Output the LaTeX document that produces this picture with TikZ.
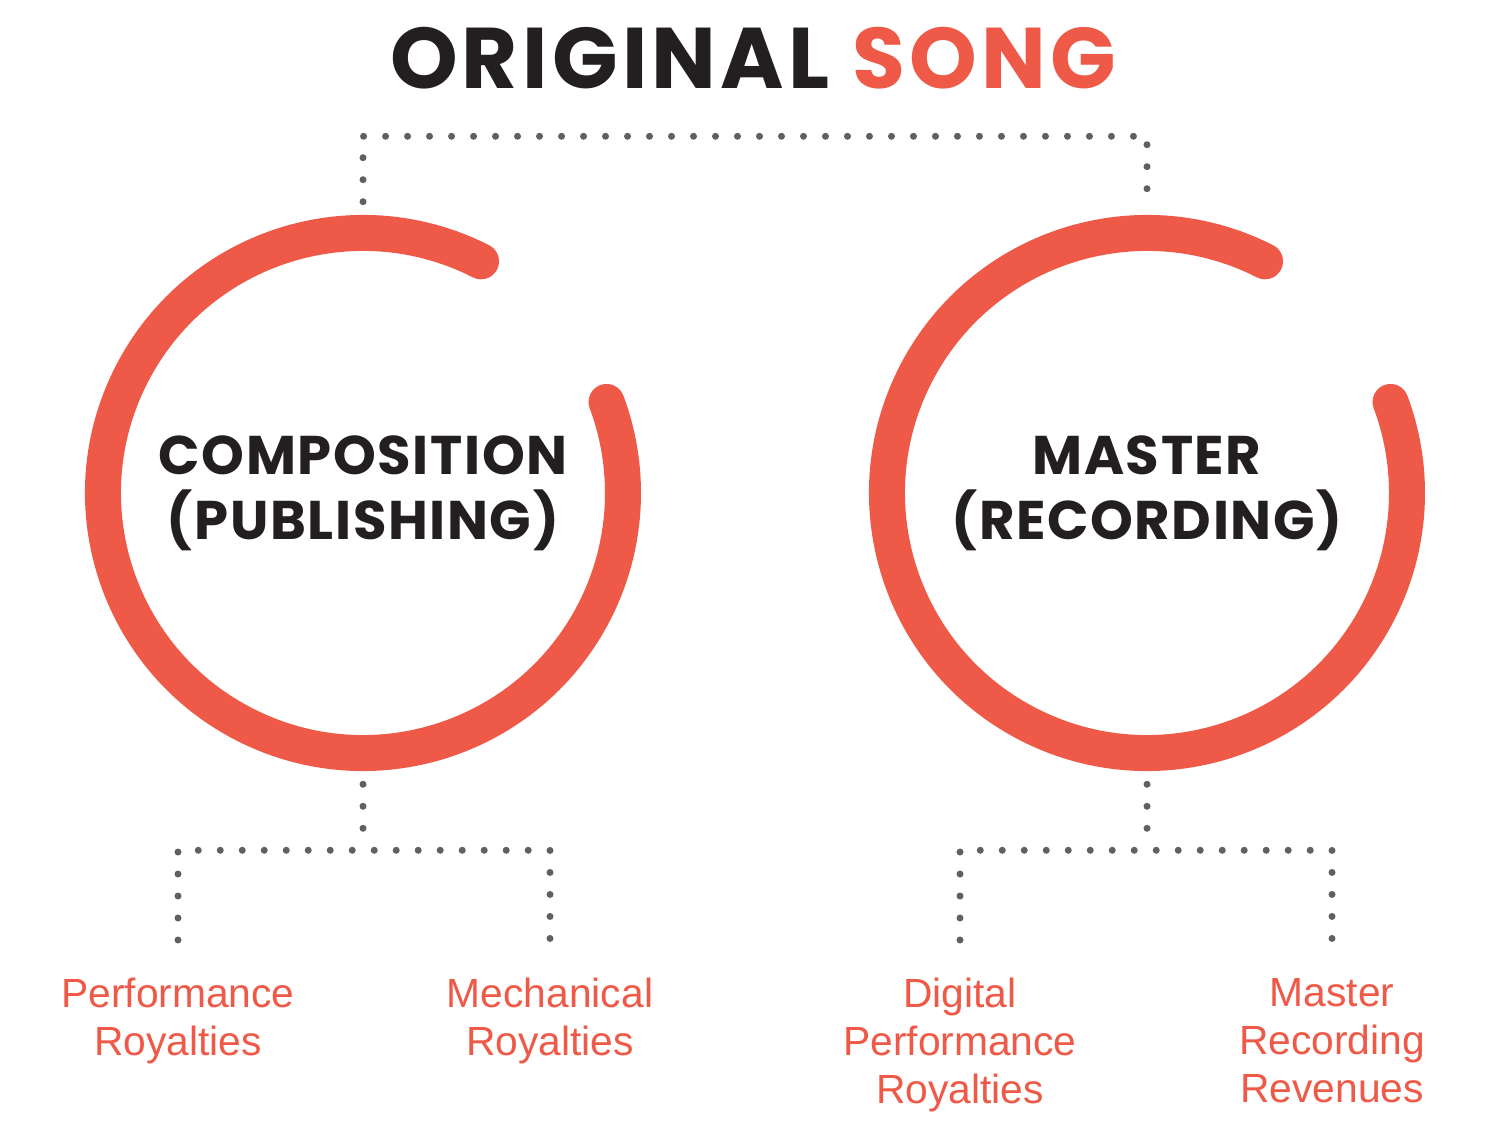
\documentclass[tikz,border=0pt]{standalone}
\usepackage{fontspec}
\setmainfont{Liberation Sans}
\newfontfamily\headfont{Poppins}
\usetikzlibrary{calc,positioning}
\definecolor{songred}{RGB}{238,89,72}
\definecolor{ink}{RGB}{35,31,32}
\definecolor{dotgray}{RGB}{95,96,98}
\begin{document}
\begin{tikzpicture}[x=0.02cm,y=0.02cm,
  dotline/.style={dotgray,line width=0.14cm,line cap=round,dash pattern=on 0pt off 0.44cm},
  ring/.style={songred,line width=0.72cm,line cap=round},
  hub/.style={circle,minimum size=11.12cm,inner sep=0pt,align=center,text=ink,font=\headfont\bfseries\addfontfeatures{LetterSpace=3}\fontsize{31}{37}\selectfont},
  leaf/.style={anchor=north,inner sep=0pt,align=center,text=songred,font=\fontsize{23.2}{27.3}\selectfont}]
\useasboundingbox(0,0)rectangle(1500,1136);
\node[font=\headfont\bfseries\addfontfeatures{LetterSpace=5}\fontsize{49}{50}\selectfont,inner sep=0pt](title)at(753,1078){\textcolor{ink}{ORIGINAL} \textcolor{songred}{SONG}};
\node[hub](comp)at(363,643){COMPOSITION\\(PUBLISHING)};
\node[hub](mast)at(1147,643){MASTER\\(RECORDING)};
\draw[ring](comp.center)++(63:260)arc[start angle=63,end angle=380.5,radius=260];
\draw[ring](mast.center)++(63:260)arc[start angle=63,end angle=380.5,radius=260];
\draw[dotline]([yshift=0.26cm]comp.north)|-([yshift=-0.94cm]title.south-|mast.north)--([yshift=0.26cm]mast.north);
\node[leaf](perf)at(178,158){Performance\\Royalties};
\node[leaf](mech)at(550,158){Mechanical\\Royalties};
\node[leaf](dperf)at(960,158){Digital\\Performance\\Royalties};
\node[leaf](mrev)at(1332,158){Master\\Recording\\Revenues};
\draw[dotline]([yshift=-0.26cm]comp.south)--++(0,-46);
\draw[dotline]([yshift=-0.26cm]mast.south)--++(0,-46);
\draw[dotline]([yshift=0.76cm]perf.north)|-([yshift=-1.58cm]comp.south)-|([yshift=0.76cm]mech.north);
\draw[dotline]([yshift=0.76cm]dperf.north)|-([yshift=-1.58cm]mast.south)-|([yshift=0.76cm]mrev.north);
\end{tikzpicture}
\end{document}
